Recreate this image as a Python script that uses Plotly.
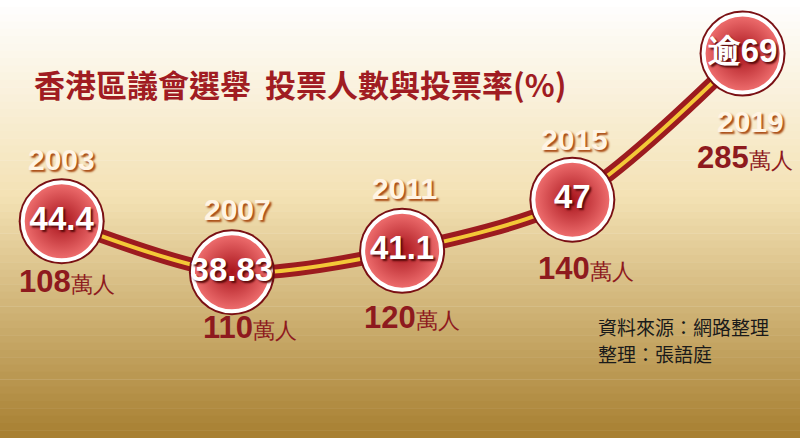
import plotly.graph_objects as go
import math

years = [2003, 2007, 2011, 2015, 2019]
turnout = [44.4, 38.83, 41.1, 47, 69]
turnout_labels = ["44.4", "38.83", "41.1", "47", "逾69"]
voters = ["108", "110", "120", "140", "285"]
title = "香港區議會選舉  投票人數與投票率(%)"
source_lines = ["資料來源：網路整理", "整理：張語庭"]

fig = go.Figure()

shapes = []
n = 60
top = (255, 255, 255)
mid = (244, 226, 180)
bot = (168, 128, 50)
for i in range(n):
    t = i / (n - 1)
    if t < 0.45:
        u = t / 0.45
        c = tuple(int(top[k] + (mid[k] - top[k]) * u) for k in range(3))
    else:
        u = (t - 0.45) / 0.55
        c = tuple(int(mid[k] + (bot[k] - mid[k]) * u) for k in range(3))
    shapes.append(dict(type="rect", xref="paper", yref="paper", x0=0, x1=1,
                       y0=1 - (i + 1) / n, y1=1 - i / n + 0.001,
                       fillcolor="rgb(%d,%d,%d)" % c, line_width=0, layer="below"))

fig.add_trace(go.Scatter(x=years, y=turnout, mode="lines",
                         line=dict(color="#9c1b1f", width=14, shape="spline", smoothing=0.8),
                         hoverinfo="skip"))
fig.add_trace(go.Scatter(x=years, y=turnout, mode="lines",
                         line=dict(color="#f3c838", width=4, shape="spline", smoothing=0.8),
                         hoverinfo="skip"))
fig.add_trace(go.Scatter(x=years, y=turnout, mode="markers",
                         marker=dict(size=86, color="#7a1014", line=dict(width=0)),
                         hoverinfo="skip"))
fig.add_trace(go.Scatter(x=years, y=turnout, mode="markers+text",
                         marker=dict(size=78, color="#f07070",
                                     gradient=dict(type="radial", color="#a8141c"),
                                     line=dict(width=4, color="white")),
                         text=turnout_labels, textposition="middle center",
                         textfont=dict(family="Liberation Sans", size=33, color="white",
                                       weight="bold", shadow="2px 2px 2px #5a0a0a"),
                         hoverinfo="skip"))

yshift_year = [62, 63, 62, 60, -68]
xshift_year = [0, 6, 2, 2, 8]
annots = []
for i, (yr, v) in enumerate(zip(years, turnout)):
    annots.append(dict(x=yr, y=math.log10(v), text="<b>%d</b>" % yr, showarrow=False,
                       yshift=yshift_year[i], xshift=xshift_year[i],
                       font=dict(family="Liberation Sans", size=30, color="#fff4e4",
                                 shadow="2px 2px 2px #a84a12")))
vshift = [(5, -60), (18, -55), (10, -67), (14, -69), (2, -104)]
for i, (yr, v) in enumerate(zip(years, turnout)):
    annots.append(dict(x=yr, y=math.log10(v),
                       text="<b>%s</b><span style='font-size:22px'>萬人</span>" % voters[i],
                       showarrow=False, xshift=vshift[i][0], yshift=vshift[i][1],
                       font=dict(family="Liberation Sans", size=31, color="#8e1a1e")))
annots.append(dict(xref="paper", yref="paper", x=0.04, y=0.865, xanchor="left",
                   text="<b>" + title + "</b>", showarrow=False,
                   font=dict(family="Noto Sans CJK TC", size=31, color="#a01c22")))
for j, s in enumerate(source_lines):
    annots.append(dict(xref="paper", yref="paper", x=0.745, y=0.22 - j * 0.062,
                       xanchor="left", text=s, showarrow=False,
                       font=dict(family="Noto Sans CJK TC", size=19, color="#1a1a1a")))

fig.update_layout(width=800, height=438, margin=dict(l=0, r=0, t=0, b=0),
                  showlegend=False, shapes=shapes, annotations=annots,
                  plot_bgcolor="rgba(0,0,0,0)", paper_bgcolor="white",
                  xaxis=dict(range=[2001.55, 2020.35], visible=False),
                  yaxis=dict(type="log", range=[1.40, 1.90], visible=False))
fig.write_html("out.html", config={"displayModeBar": False},
               post_script="document.body.style.margin='0';")
